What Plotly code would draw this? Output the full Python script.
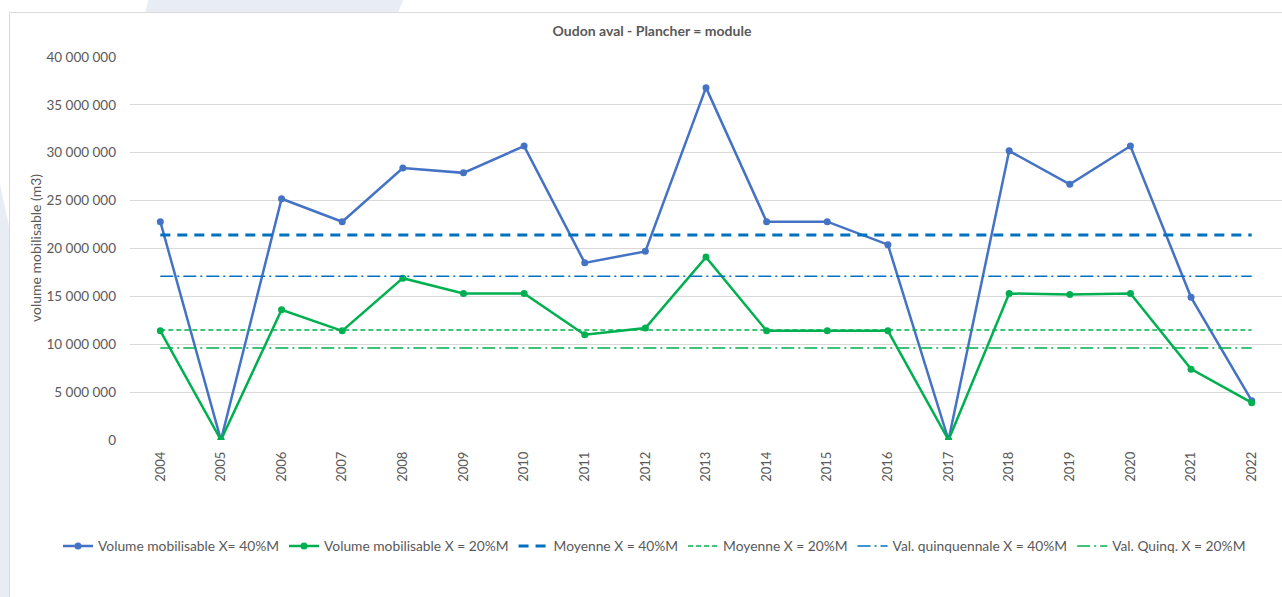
import plotly.graph_objects as go

# Years and volumes (m3)
years = [str(y) for y in range(2004, 2023)]
vol_40 = [22.8e6, 0, 25.2e6, 22.8e6, 28.4e6, 27.9e6, 30.7e6, 18.5e6, 19.7e6, 36.8e6,
          22.8e6, 22.8e6, 20.4e6, 0, 30.2e6, 26.7e6, 30.7e6, 14.9e6, 4.1e6]
vol_20 = [11.4e6, 0, 13.6e6, 11.4e6, 16.9e6, 15.3e6, 15.3e6, 11.0e6, 11.7e6, 19.1e6,
          11.4e6, 11.4e6, 11.4e6, 0, 15.3e6, 15.2e6, 15.3e6, 7.4e6, 3.9e6]
moyenne_40 = 21.4e6
moyenne_20 = 11.5e6
quinq_40 = 17.1e6
quinq_20 = 9.6e6

W, H = 1282, 597
ML, MR, MT, MB = 130, 0, 57, 157
PW, PH = W - ML - MR, H - MT - MB

def px(x):
    return (x - ML) / PW

def py(y):
    return (H - MB - y) / PH

FONT = "Lato, 'Open Sans', sans-serif"
GREY = "#595959"
BLUE = "#4472C4"
GREEN = "#00B050"
DBLUE = "#0070C0"

fig = go.Figure()
fig.add_trace(go.Scatter(x=years, y=vol_40, name="Volume mobilisable X= 40%M",
                         mode="lines+markers", line=dict(color=BLUE, width=2.5),
                         marker=dict(size=7, color=BLUE)))
fig.add_trace(go.Scatter(x=years, y=vol_20, name="Volume mobilisable X = 20%M",
                         mode="lines+markers", line=dict(color=GREEN, width=2.5),
                         marker=dict(size=7, color=GREEN)))
fig.add_trace(go.Scatter(x=years, y=[moyenne_40] * len(years), name="Moyenne X = 40%M",
                         mode="lines", line=dict(color=DBLUE, width=3, dash="10px,7px")))
fig.add_trace(go.Scatter(x=years, y=[moyenne_20] * len(years), name="Moyenne X = 20%M",
                         mode="lines", line=dict(color=GREEN, width=1.5, dash="5px,3px")))
fig.add_trace(go.Scatter(x=years, y=[quinq_40] * len(years), name="Val. quinquennale X = 40%M",
                         mode="lines", line=dict(color=DBLUE, width=1.5, dash="13px,4px,2px,4px")))
fig.add_trace(go.Scatter(x=years, y=[quinq_20] * len(years), name="Val. Quinq. X = 20%M",
                         mode="lines", line=dict(color=GREEN, width=1.5, dash="13px,4px,2px,4px")))

shapes = [
    # decorative slide background
    dict(type="path", xref="paper", yref="paper", layer="below",
         path=f"M {px(145)} {py(13)} L {px(149)} {py(-2)} L {px(404)} {py(-2)} L {px(398)} {py(13)} Z",
         fillcolor="#e8edf5", line=dict(width=0)),
    dict(type="path", xref="paper", yref="paper", layer="below",
         path=f"M {px(-2)} {py(175)} L {px(12)} {py(240)} L {px(12)} {py(600)} L {px(-2)} {py(600)} Z",
         fillcolor="#e8edf5", line=dict(width=0)),
    # chart frame
    dict(type="rect", xref="paper", yref="paper", layer="below",
         x0=px(9.5), x1=px(1290), y0=py(605), y1=py(12.5),
         fillcolor="white", line=dict(color="#d9d9d9", width=1)),
]

fig.update_layout(
    width=W, height=H,
    margin=dict(l=ML, r=MR, t=MT, b=MB),
    paper_bgcolor="white", plot_bgcolor="rgba(0,0,0,0)",
    separators=", ",
    font=dict(family=FONT, size=13, color=GREY),
    title=dict(text="<b>Oudon aval - Plancher = module</b>", x=px(652), xref="paper",
               xanchor="center", y=1 - 31 / H, yref="container", yanchor="middle",
               font=dict(family=FONT, size=14, color=GREY)),
    shapes=shapes,
    showlegend=True,
    legend=dict(orientation="h", x=px(58), xanchor="left", y=py(546), yanchor="middle",
                font=dict(family=FONT, size=13.8, color=GREY), bgcolor="rgba(0,0,0,0)",
                itemwidth=30, tracegroupgap=0),
    annotations=[dict(text="volume mobilisable (m3)", textangle=-90, xref="paper", yref="paper",
                      x=px(35), y=py(248), xanchor="center", yanchor="middle", showarrow=False,
                      font=dict(family=FONT, size=14, color=GREY))],
)
fig.update_xaxes(type="category", range=[-0.5, len(years) - 0.5], showgrid=False,
                 showline=False, zeroline=False, tickangle=-90, ticks="",
                 ticklabelstandoff=8, tickfont=dict(family=FONT, size=13, color=GREY))
fig.update_yaxes(range=[0, 40e6], dtick=5e6, tickformat=",d", showgrid=True,
                 gridcolor="#d9d9d9", gridwidth=1, zeroline=False, showline=False,
                 ticks="", ticklabelstandoff=13,
                 tickfont=dict(family=FONT, size=13.5, color=GREY))

fig.write_html("out.html")
